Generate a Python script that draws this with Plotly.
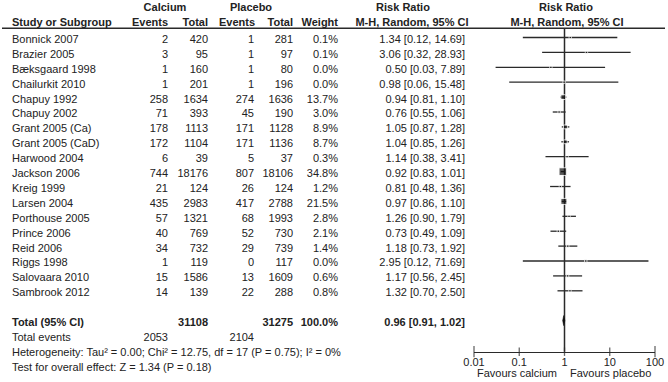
import plotly.graph_objects as go

# ---------------- data ----------------
studies = ["Bonnick 2007", "Brazier 2005", "Bæksgaard 1998", "Chailurkit 2010", "Chapuy 1992",
           "Chapuy 2002", "Grant 2005 (Ca)", "Grant 2005 (CaD)", "Harwood 2004", "Jackson 2006",
           "Kreig 1999", "Larsen 2004", "Porthouse 2005", "Prince 2006", "Reid 2006",
           "Riggs 1998", "Salovaara 2010", "Sambrook 2012"]
ca_events = [2, 3, 1, 1, 258, 71, 178, 172, 6, 744, 21, 435, 57, 40, 34, 1, 15, 14]
ca_total = [420, 95, 160, 201, 1634, 393, 1113, 1104, 39, 18176, 124, 2983, 1321, 769, 732, 119, 1586, 139]
pl_events = [1, 1, 1, 1, 274, 45, 171, 171, 5, 807, 26, 417, 68, 52, 29, 0, 13, 22]
pl_total = [281, 97, 80, 196, 1636, 190, 1128, 1136, 37, 18106, 124, 2788, 1993, 730, 739, 117, 1609, 288]
weights = [0.1, 0.1, 0.0, 0.0, 13.7, 3.0, 8.9, 8.7, 0.3, 34.8, 1.2, 21.5, 2.8, 2.1, 1.4, 0.0, 0.6, 0.8]
rr = [1.34, 3.06, 0.50, 0.98, 0.94, 0.76, 1.05, 1.04, 1.14, 0.92, 0.81, 0.97, 1.26, 0.73, 1.18, 2.95, 1.17, 1.32]
rr_lo = [0.12, 0.32, 0.03, 0.06, 0.81, 0.55, 0.87, 0.85, 0.38, 0.83, 0.48, 0.86, 0.90, 0.49, 0.73, 0.12, 0.56, 0.70]
rr_hi = [14.69, 28.93, 7.89, 15.48, 1.10, 1.06, 1.28, 1.26, 3.41, 1.01, 1.36, 1.10, 1.79, 1.09, 1.92, 71.69, 2.45, 2.50]

total_ca = 31108
total_pl = 31275
total_weight = 100.0
total_rr = 0.96
total_lo = 0.91
total_hi = 1.02
events_ca = 2053
events_pl = 2104
heterogeneity = "Heterogeneity: Tau² = 0.00; Chi² = 12.75, df = 17 (P = 0.75); I² = 0%"
overall_test = "Test for overall effect: Z = 1.34 (P = 0.18)"

tick_vals = [0.01, 0.1, 1, 10, 100]
tick_text = ["0.01", "0.1", "1", "10", "100"]
favours = ["Favours calcium", "Favours placebo"]

# ---------------- layout constants ----------------
W, H = 668, 382
ROW0, ROWH = 39.0, 14.9          # pixel of row 0, pixel per row


def row_of(px):
    return (px - ROW0) / ROWH


FONT = "Liberation Sans, Arial, sans-serif"
TXT = "#222222"
LINE = "#2a2a2a"
FS = 11
TEXT_DY = 1.2 / ROWH             # plotly "middle" text sits ~1.2px high; compensate

n = len(studies)
rows = list(range(n))
r_total, r_events, r_het, r_test = n + 1, n + 2, n + 3, n + 4
r_head1, r_head2 = row_of(7.5), row_of(22.5)
r_rule = row_of(28.3)
r_axis = row_of(351.7)
r_ticklab = row_of(362.3)
r_fav = row_of(372.8)
fshift = -0.1                     # forest marks sit slightly above text rows

fig = go.Figure()


def add_text(xpx, ys, texts, pos, bold=False, xaxis="x2"):
    fig.add_trace(go.Scatter(
        x=xpx if isinstance(xpx, list) else [xpx] * len(ys), y=[v + TEXT_DY for v in ys],
        text=[f"<b>{t}</b>" if bold else t for t in texts],
        mode="text", textposition=pos, cliponaxis=False, hoverinfo="skip",
        textfont=dict(family=FONT, size=FS, color=TXT),
        xaxis=xaxis, yaxis="y", showlegend=False))


# column positions (pixels)
X_STUDY = 12
X_CAE, X_CAT, X_PLE, X_PLT, X_W, X_RR = 168, 208, 254, 293, 338, 465

# headers
add_text(165, [r_head1], ["Calcium"], "middle center", bold=True)
add_text(251, [r_head1], ["Placebo"], "middle center", bold=True)
add_text(403, [r_head1], ["Risk Ratio"], "middle center", bold=True)
add_text(566, [r_head1], ["Risk Ratio"], "middle center", bold=True)
add_text(X_STUDY, [r_head2], ["Study or Subgroup"], "middle right", bold=True)
add_text(X_CAE, [r_head2], ["Events"], "middle left", bold=True)
add_text(X_CAT, [r_head2], ["Total"], "middle left", bold=True)
add_text(X_PLE + 1, [r_head2], ["Events"], "middle left", bold=True)
add_text(X_PLT, [r_head2], ["Total"], "middle left", bold=True)
add_text(X_W, [r_head2], ["Weight"], "middle left", bold=True)
add_text(412, [r_head2], ["M-H, Random, 95% CI"], "middle center", bold=True)
add_text(567, [r_head2], ["M-H, Random, 95% CI"], "middle center", bold=True)

# study rows
add_text(X_STUDY, rows, studies, "middle right")
add_text(X_CAE, rows, [str(v) for v in ca_events], "middle left")
add_text(X_CAT, rows, [str(v) for v in ca_total], "middle left")
add_text(X_PLE, rows, [str(v) for v in pl_events], "middle left")
add_text(X_PLT, rows, [str(v) for v in pl_total], "middle left")
add_text(X_W, rows, [f"{w:.1f}%" for w in weights], "middle left")
add_text(X_RR, rows, [f"{r:.2f} [{l:.2f}, {h:.2f}]" for r, l, h in zip(rr, rr_lo, rr_hi)], "middle left")

# totals
add_text(X_STUDY, [r_total], ["Total (95% CI)"], "middle right", bold=True)
add_text(X_CAT, [r_total], [str(total_ca)], "middle left", bold=True)
add_text(X_PLT, [r_total], [str(total_pl)], "middle left", bold=True)
add_text(X_W, [r_total], [f"{total_weight:.1f}%"], "middle left", bold=True)
add_text(X_RR, [r_total], [f"{total_rr:.2f} [{total_lo:.2f}, {total_hi:.2f}]"], "middle left", bold=True)
add_text(X_STUDY, [r_events], ["Total events"], "middle right")
add_text(X_CAE, [r_events], [str(events_ca)], "middle left")
add_text(X_PLE, [r_events], [str(events_pl)], "middle left")
add_text(X_STUDY, [r_het], [heterogeneity], "middle right")
add_text(X_STUDY, [r_test], [overall_test], "middle right")

# favours labels
add_text(557, [r_fav], [favours[0]], "middle left")
add_text(570, [r_fav], [favours[1]], "middle right")

# tick labels of the forest axis (placed through the log scale)
add_text(tick_vals, [r_ticklab] * len(tick_vals), tick_text, "middle center", xaxis="x")

# ---------------- forest ----------------
frows = [r + fshift for r in rows]
# CIs + squares
fig.add_trace(go.Scatter(
    x=rr, y=frows, mode="markers", hoverinfo="skip", showlegend=False,
    marker=dict(size=[max(2.4, 1.3 * w ** 0.5) for w in weights], symbol="square", color="#111111"),
    error_x=dict(type="data", symmetric=False,
                 array=[h - r for r, h in zip(rr, rr_hi)],
                 arrayminus=[r - l for r, l in zip(rr, rr_lo)],
                 width=0, thickness=1.3, color=LINE),
    xaxis="x", yaxis="y", cliponaxis=False))
# diamond
dh = 0.34
fig.add_trace(go.Scatter(
    x=[total_lo, total_rr, total_hi, total_rr, total_lo],
    y=[r_total + fshift, r_total + fshift - dh, r_total + fshift, r_total + fshift + dh, r_total + fshift],
    mode="lines", fill="toself", fillcolor="#111111", line=dict(color="#111111", width=0.5),
    hoverinfo="skip", showlegend=False, xaxis="x", yaxis="y", cliponaxis=False))
# tick marks crossing axis line
fig.add_trace(go.Scatter(
    x=tick_vals, y=[r_axis] * len(tick_vals), mode="markers", hoverinfo="skip", showlegend=False,
    marker=dict(symbol="line-ns", size=[8, 6, 6, 6, 8], line=dict(color=LINE, width=1.3)),
    xaxis="x", yaxis="y", cliponaxis=False))

# null line at RR = 1
fig.add_shape(type="line", xref="x", yref="y", x0=1, x1=1, y0=r_rule, y1=r_axis,
              line=dict(color=LINE, width=1.5), layer="below")
# header rule
fig.add_shape(type="line", xref="paper", yref="y", x0=2 / W, x1=665 / W, y0=r_rule, y1=r_rule,
              line=dict(color=LINE, width=1.6))

y_lo = row_of(H)
y_hi = row_of(0)
fig.update_layout(
    width=W, height=H, margin=dict(l=0, r=0, t=0, b=0),
    paper_bgcolor="white", plot_bgcolor="rgba(0,0,0,0)",
    font=dict(family=FONT, size=FS, color=TXT),
    xaxis=dict(type="log", range=[-2, 2], domain=[474 / W, 655 / W], anchor="free",
               position=1 - 351.7 / H, showgrid=False, zeroline=False, showline=True,
               linecolor=LINE, linewidth=1.3, ticks="", showticklabels=False, fixedrange=True),
    xaxis2=dict(range=[0, W], domain=[0, 1], anchor="y", visible=False, fixedrange=True),
    yaxis=dict(range=[y_lo, y_hi], domain=[0, 1], visible=False, fixedrange=True),
)

fig.write_html("out.html", config={"displayModeBar": False},
               post_script="document.body.style.margin='0';")
